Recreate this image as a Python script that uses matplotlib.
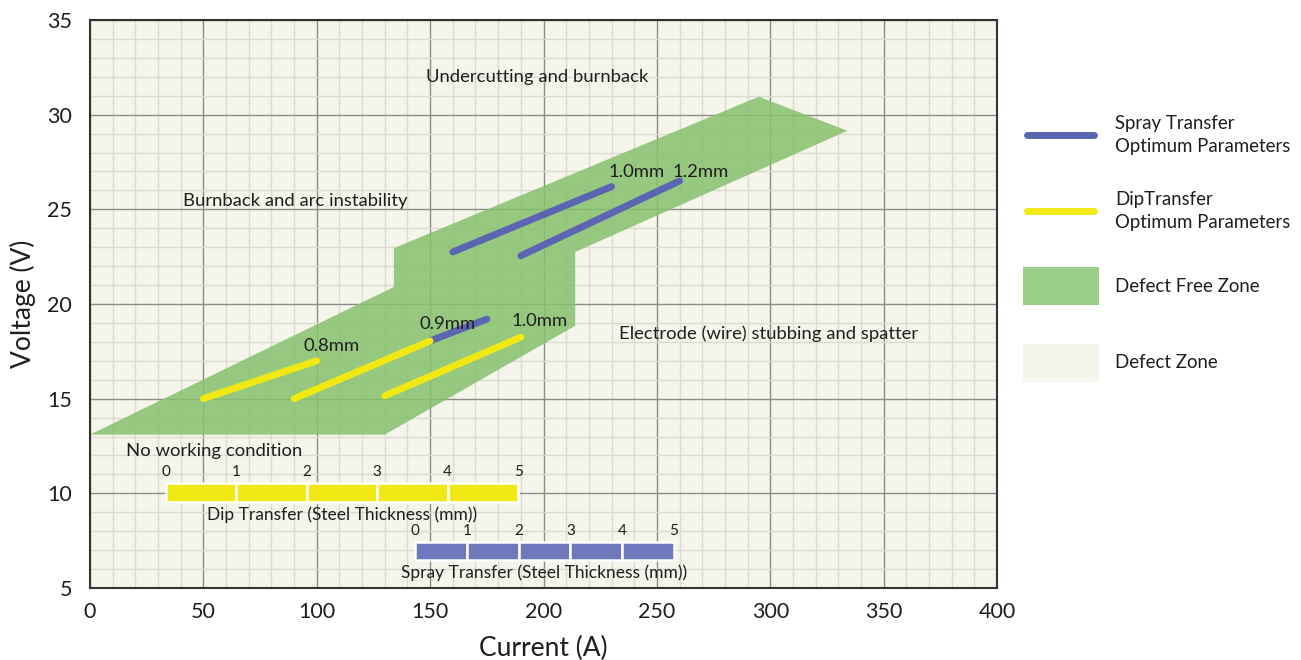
import numpy as np
import matplotlib.pyplot as plt
from matplotlib.patches import Polygon, Rectangle
from matplotlib.lines import Line2D

plt.rcParams['font.family'] = ['Lato', 'DejaVu Sans']

# -----------------------------
# data
# -----------------------------
zone_x = [0, 130, 214, 214, 334, 295, 134, 134]
zone_y = [13.1, 13.1, 18.85, 22.75, 29.15, 30.95, 22.95, 20.9]

dip_x = [[50, 100], [90, 150], [130, 190]]
dip_y = [[15.0, 17.0], [15.0, 18.05], [15.15, 18.25]]
dip_labels = ["0.8mm", "", "1.0mm"]

spray_x = [[150, 175], [160, 230], [190, 260]]
spray_y = [[18.05, 19.2], [22.75, 26.2], [22.55, 26.5]]
wire_labels = ["0.9mm", "1.0mm", "1.2mm"]

zone_names = ["Undercutting and burnback", "Burnback and arc instability",
              "Electrode (wire) stubbing and spatter", "No working condition"]

thick_ticks = [0, 1, 2, 3, 4, 5]
dip_scale_x = (33.3, 188.8)      # current span of the dip thickness scale
spray_scale_x = (143.5, 257.4)   # current span of the spray thickness scale

bg = "#F6F5EC"
green = "#87C16D"
blue = "#5B66B3"
blue_bar = "#6E78BC"
yellow = "#F2E814"
txt = "#1E1E1E"

fig = plt.figure(figsize=(13.01, 6.6), dpi=100)
ax = fig.add_axes([90 / 1301, 1 - 588 / 660, 907 / 1301, 568 / 660])
ax.set_facecolor(bg)
ax.set_xlim(0, 400)
ax.set_ylim(5, 35)

# grid: major every 50 A / 5 V, minor every 10 A / 1 V
ax.set_xticks(np.arange(0, 401, 50))
ax.set_yticks(np.arange(5, 36, 5))
ax.set_xticks(np.arange(0, 401, 10), minor=True)
ax.set_yticks(np.arange(5, 36, 1), minor=True)
ax.grid(which='minor', color="#DCDBD1", lw=1.0)
ax.grid(which='major', color="#8C8C86", lw=1.0)
ax.set_axisbelow(True)
ax.tick_params(which='both', length=0, labelsize=15.5, colors=txt)
ax.tick_params(axis='x', pad=10)
ax.tick_params(axis='y', pad=13)
for s in ax.spines.values():
    s.set_color("#333333")
    s.set_linewidth(1.5)

ax.set_xlabel("Current (A)", fontsize=19, color=txt, labelpad=10)
ax.set_ylabel("Voltage (V)", fontsize=19, color=txt, labelpad=8)

# defect free zone
ax.add_patch(Polygon(np.column_stack([zone_x, zone_y]), closed=True,
                     facecolor=green, edgecolor='none', alpha=0.85, zorder=1))

# spray lines first, dip lines on top
for xs, ys in zip(spray_x, spray_y):
    ax.plot(xs, ys, color=blue, lw=5, solid_capstyle='round', zorder=3)
for xs, ys in zip(dip_x, dip_y):
    ax.plot(xs, ys, color=yellow, lw=5, solid_capstyle='round', zorder=4)

fs = 13.3
ax.text(94, 17.8, "0.8mm", fontsize=fs, color=txt, va='center', zorder=5)
ax.text(145.5, 18.95, wire_labels[0], fontsize=fs, color=txt, va='center', zorder=5)
ax.text(186, 19.1, dip_labels[2], fontsize=fs, color=txt, va='center', zorder=5)
ax.text(228.5, 26.95, wire_labels[1], fontsize=fs, color=txt, va='center', zorder=5)
ax.text(257, 26.95, wire_labels[2], fontsize=fs, color=txt, va='center', zorder=5)

ax.text(197, 32.0, zone_names[0], fontsize=fs, color=txt, ha='center', va='center')
ax.text(41, 25.45, zone_names[1], fontsize=fs, color=txt, va='center')
ax.text(233.5, 18.45, zone_names[2], fontsize=fs, color=txt, va='center')
ax.text(16, 12.25, zone_names[3], fontsize=fs, color=txt, va='center')


def thickness_scale(span, y0, h, color, caption):
    x0, x1 = span
    w = (x1 - x0) / (len(thick_ticks) - 1)
    for i in range(len(thick_ticks) - 1):
        ax.add_patch(Rectangle((x0 + i * w, y0), w, h, facecolor=color,
                               edgecolor='white', lw=1.8, zorder=3))
    for i, t in enumerate(thick_ticks):
        ax.text(x0 + i * w, y0 + h + 0.2, str(t), fontsize=11, color=txt,
                ha='center', va='bottom', zorder=5)
    ax.text((x0 + x1) / 2, y0 - 0.25, caption, fontsize=12.5, color=txt,
            ha='center', va='top', zorder=5)


thickness_scale(dip_scale_x, 9.55, 1.0, yellow, "Dip Transfer (Steel Thickness (mm))")
thickness_scale(spray_scale_x, 6.5, 0.92, blue_bar, "Spray Transfer (Steel Thickness (mm))")

# legend drawn by hand on the right
W, H = 1301, 660


def fx(px):
    return px / W


def fy(py):
    return 1 - py / H


fig.add_artist(Line2D([fx(1027), fx(1094)], [fy(135), fy(135)], color=blue,
                      lw=5, solid_capstyle='round'))
fig.add_artist(Line2D([fx(1027), fx(1094)], [fy(211), fy(211)], color=yellow,
                      lw=5, solid_capstyle='round'))
fig.add_artist(Rectangle((fx(1023), fy(305)), fx(76), 38 / H, facecolor="#9BCF87",
                         edgecolor='none'))
fig.add_artist(Rectangle((fx(1023), fy(382)), fx(76), 38 / H, facecolor=bg,
                         edgecolor='none'))
leg_txt = ["Spray Transfer\nOptimum Parameters", "DipTransfer\nOptimum Parameters",
           "Defect Free Zone", "Defect Zone"]
for lab, py in zip(leg_txt, [135, 211, 286, 362]):
    fig.text(fx(1115), fy(py), lab, fontsize=13.4, color=txt, va='center',
             linespacing=1.4)

fig.savefig("out.png", dpi=100, facecolor='white')
